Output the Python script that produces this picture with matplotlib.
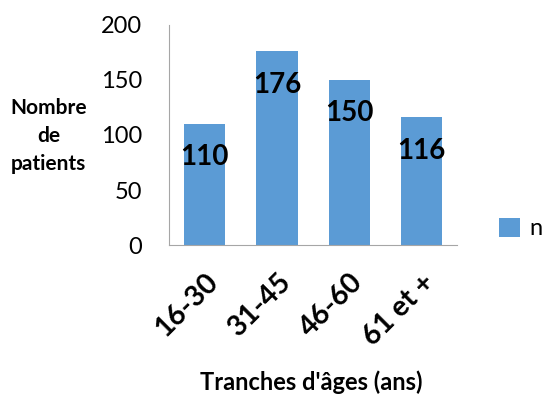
import matplotlib.pyplot as plt

categories = ['16-30', '31-45', '46-60', '61 et +']
values = [110, 176, 150, 116]
yticks = [0, 50, 100, 150, 200]

plt.rcParams['font.family'] = ['Lato', 'DejaVu Sans']

fig = plt.figure(figsize=(5.43, 3.94), dpi=100)
ax = fig.add_axes([0.311, 0.378, 0.531, 0.559])

bars = ax.bar(range(len(values)), values, width=0.57, color='#5B9BD5', label='n')
ax.set_xlim(-0.5, len(values) - 0.5)
ax.set_ylim(0, 200)
ax.set_yticks(yticks)
ax.tick_params(axis='y', length=0, pad=19, labelsize=17)
ax.tick_params(axis='x', length=0, pad=17)
ax.set_xticks(range(len(values)))
ax.set_xticklabels(categories, rotation=45, ha='right', rotation_mode='anchor',
                   fontsize=20.5, fontweight='bold')

for s in ['top', 'right']:
    ax.spines[s].set_visible(False)
for s in ['left', 'bottom']:
    ax.spines[s].set_color('#A6A6A6')

for i, v in enumerate(values):
    ax.annotate(str(v), (i, v), xytext=(0, -24), textcoords='offset points',
                ha='center', va='center', fontsize=20, fontweight='bold')

fig.text(0.09, 0.655, 'Nombre\nde\npatients', ha='center', va='center',
         fontsize=15, fontweight='bold', linespacing=1.5)
fig.text(0.573, 0.03, "Tranches d'âges (ans)", ha='center', va='center',
         fontsize=17, fontweight='bold')

fig.legend(handles=[bars], labels=['n'], loc='center left', bbox_to_anchor=(0.88, 0.42),
           frameon=False, fontsize=17, handlelength=0.9, handleheight=0.9,
           handletextpad=0.4)

fig.savefig('out.png', dpi=100)
